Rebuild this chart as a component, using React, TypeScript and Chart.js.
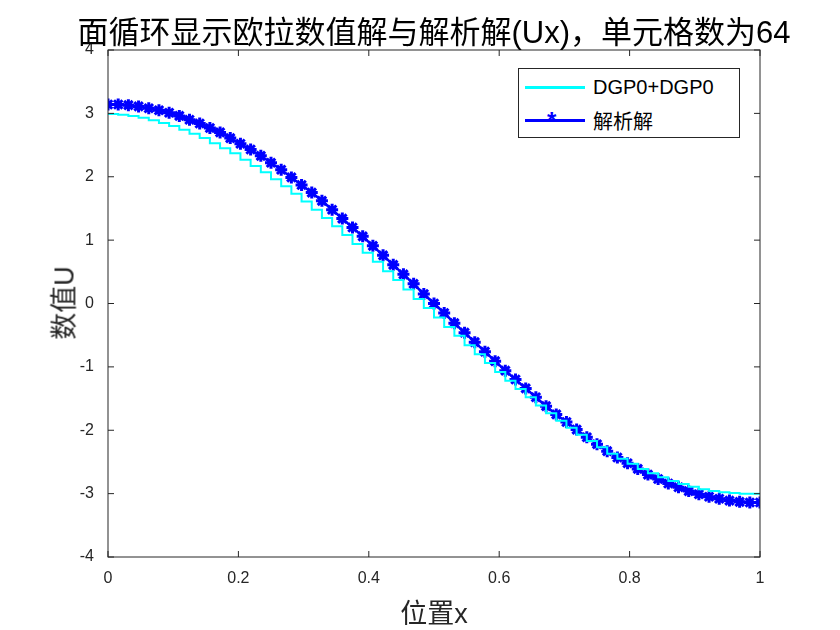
import { useEffect, useRef } from "react";
import { Chart, registerables } from "chart.js";

Chart.register(...registerables);

// cell values of DGP0 (64 cells, left half; right half mirrors with sign)
const dgHalf = [
  3.0, 2.99, 2.98, 2.96, 2.93, 2.89, 2.85, 2.8, 2.74, 2.68, 2.61, 2.53, 2.45, 2.37, 2.27, 2.17,
  2.07, 1.96, 1.85, 1.73, 1.61, 1.48, 1.35, 1.22, 1.08, 0.94, 0.8, 0.66, 0.51, 0.37, 0.22, 0.07,
];
// analytical values at nodes x = i/64, i = 0..32
const exactHalf = [
  3.14, 3.14, 3.13, 3.11, 3.08, 3.05, 3.01, 2.96, 2.9, 2.84, 2.77, 2.7, 2.61, 2.52, 2.43, 2.33,
  2.22, 2.11, 1.99, 1.87, 1.75, 1.62, 1.48, 1.34, 1.2, 1.06, 0.91, 0.76, 0.61, 0.46, 0.31, 0.15, 0,
];
const nCells = 64;
const xTicks = [0, 0.2, 0.4, 0.6, 0.8, 1];
const yTicks = [-4, -3, -2, -1, 0, 1, 2, 3, 4];

const dgValues = [...dgHalf, ...dgHalf.slice().reverse().map((v) => -v)];
const exactValues = [...exactHalf, ...exactHalf.slice(0, 32).reverse().map((v) => -v)];

const frame = {
  id: "frame",
  afterDatasetsDraw(chart: any) {
    const { ctx, chartArea: a, scales } = chart;
    ctx.save();
    ctx.strokeStyle = "#262626";
    ctx.lineWidth = 1;
    ctx.strokeRect(a.left, a.top, a.right - a.left, a.bottom - a.top);
    ctx.beginPath();
    xTicks.forEach((t) => {
      const x = scales.x.getPixelForValue(t);
      ctx.moveTo(x, a.bottom); ctx.lineTo(x, a.bottom - 6);
      ctx.moveTo(x, a.top); ctx.lineTo(x, a.top + 6);
    });
    yTicks.forEach((t) => {
      const y = scales.y.getPixelForValue(t);
      ctx.moveTo(a.left, y); ctx.lineTo(a.left + 6, y);
      ctx.moveTo(a.right, y); ctx.lineTo(a.right - 6, y);
    });
    ctx.stroke();
    ctx.restore();
  },
};

export default function App() {
  const ref = useRef<HTMLCanvasElement>(null);

  useEffect(() => {
    if (!ref.current) return;
    const dgPoints = dgValues.map((v, i) => ({ x: i / nCells, y: v }));
    dgPoints.push({ x: 1, y: dgValues[nCells - 1] });
    const exactPoints = exactValues.map((v, i) => ({ x: i / nCells, y: v }));
    const tickFont = { family: "Arial, Liberation Sans", size: 16 };

    const chart = new Chart(ref.current, {
      type: "line",
      data: {
        datasets: [
          {
            label: "DGP0+DGP0",
            data: dgPoints,
            borderColor: "#00ffff",
            borderWidth: 2,
            pointRadius: 0,
            stepped: "after",
          },
          {
            label: "解析解",
            data: exactPoints,
            borderColor: "#0000ff",
            backgroundColor: "#0000ff",
            borderWidth: 2.5,
            pointStyle: "star",
            pointRadius: 6,
            pointBorderWidth: 3,
          },
        ],
      },
      options: {
        animation: false,
        responsive: false,
        layout: { padding: { left: 0, top: 50, right: 80, bottom: 0 } },
        plugins: { legend: { display: false }, tooltip: { enabled: false } },
        scales: {
          x: {
            type: "linear",
            min: 0,
            max: 1,
            afterBuildTicks: (s: any) => { s.ticks = xTicks.map((v) => ({ value: v })); },
            afterFit: (s: any) => { s.height = 73; },
            grid: { display: false },
            border: { display: false },
            ticks: { color: "#262626", font: tickFont, padding: 4, callback: (v: any) => String(v) },
          },
          y: {
            min: -4,
            max: 4,
            afterBuildTicks: (s: any) => { s.ticks = yTicks.map((v) => ({ value: v })); },
            afterFit: (s: any) => { s.width = 108; },
            grid: { display: false },
            border: { display: false },
            ticks: { color: "#262626", font: tickFont, padding: 6 },
          },
        },
      },
      plugins: [frame],
    });
    return () => chart.destroy();
  }, []);

  const font = "Arial, 'Liberation Sans', 'Noto Sans CJK SC', sans-serif";
  return (
    <div style={{ position: "absolute", left: 0, top: 0, width: 840, height: 630, background: "#fff", fontFamily: font, color: "#000" }}>
      <canvas ref={ref} width={840} height={630} />
      <div style={{ position: "absolute", top: 7, left: 0, width: 868, textAlign: "center", fontSize: 31, whiteSpace: "nowrap" }}>
        面循环显示欧拉数值解与解析解(Ux)，单元格数为64
      </div>
      <div style={{ position: "absolute", top: 592, left: 108, width: 652, textAlign: "center", fontSize: 27, color: "#262626" }}>
        位置x
      </div>
      <div style={{ position: "absolute", left: 62, top: 303, transform: "translate(-50%,-50%) rotate(-90deg)", fontSize: 27, color: "#262626", whiteSpace: "nowrap" }}>
        数值U
      </div>
      <div style={{ position: "absolute", left: 518, top: 68, width: 220, height: 68, border: "1px solid #262626", background: "#fff", fontSize: 20 }}>
        <div style={{ position: "absolute", left: 6, top: 7, display: "flex", alignItems: "center" }}>
          <div style={{ width: 60, height: 3, background: "#00ffff" }} />
          <span style={{ marginLeft: 8 }}>DGP0+DGP0</span>
        </div>
        <div style={{ position: "absolute", left: 6, top: 37, display: "flex", alignItems: "center" }}>
          <div style={{ width: 60, height: 3, background: "#0000ff", position: "relative" }}>
            <span style={{ position: "absolute", left: 22, top: -12, color: "#0000ff", fontSize: 24, fontWeight: "bold" }}>*</span>
          </div>
          <span style={{ marginLeft: 8 }}>解析解</span>
        </div>
      </div>
    </div>
  );
}
